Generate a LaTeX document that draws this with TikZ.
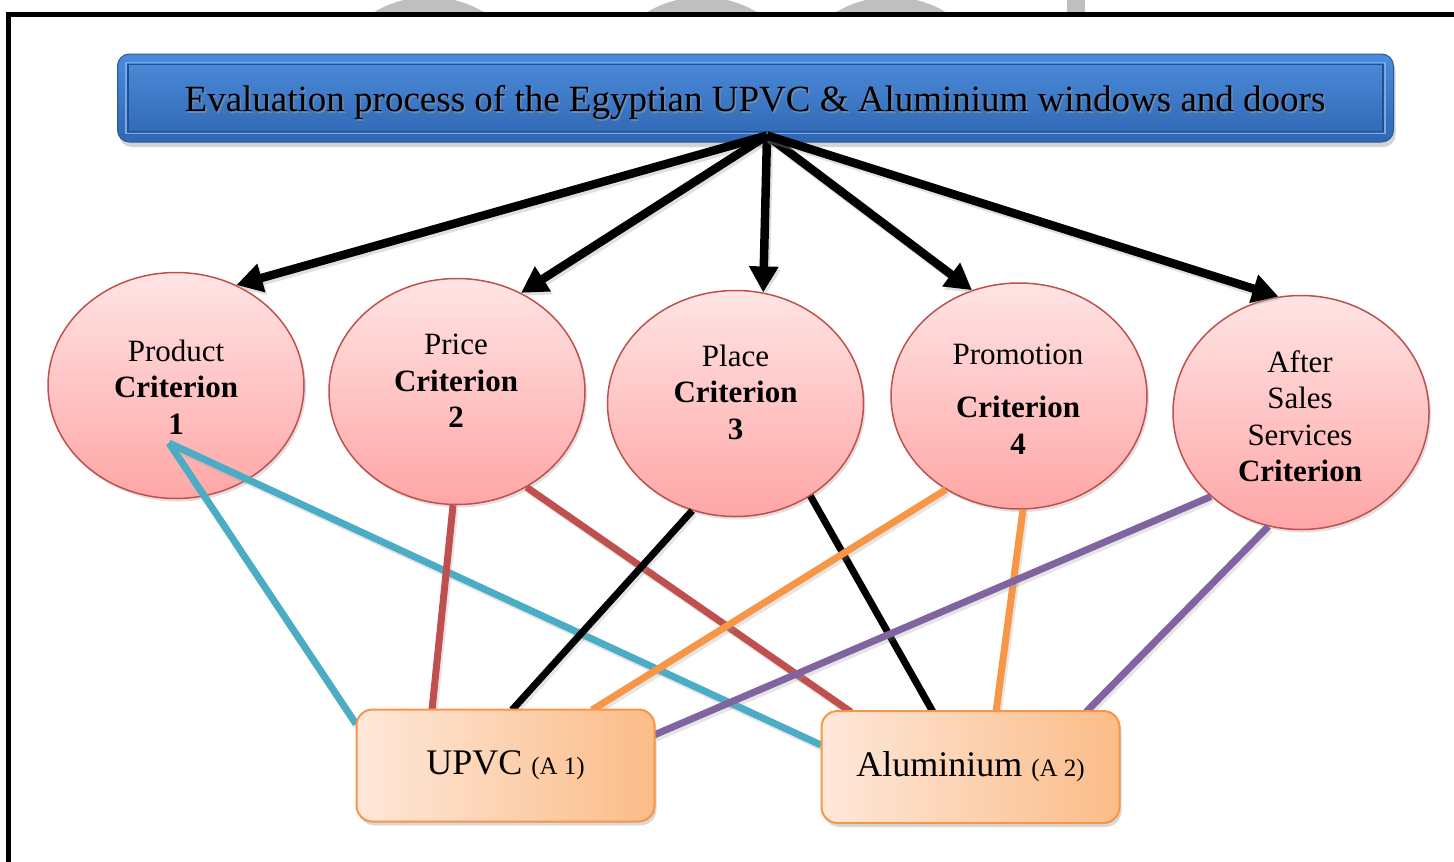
\documentclass[tikz,border=0pt]{standalone}
\usepackage{fontspec}
\setmainfont{Liberation Serif}
\usetikzlibrary{shapes.geometric,arrows.meta,shadows,calc}
\definecolor{critedge}{HTML}{C0504D}
\definecolor{crittop}{HTML}{FFE4E4}
\definecolor{critbot}{HTML}{FFA6A6}
\definecolor{boxedge}{HTML}{F79646}
\definecolor{boxleft}{HTML}{FEE8DA}
\definecolor{boxright}{HTML}{FBBC88}
\definecolor{bartop}{HTML}{4C8CDC}
\definecolor{barbot}{HTML}{2F67B2}
\definecolor{baredge}{HTML}{2A5A98}
\definecolor{barinner}{HTML}{22508C}
\definecolor{barlight}{HTML}{78A8E6}
\definecolor{lcyan}{HTML}{4BACC6}
\definecolor{lred}{HTML}{C0504D}
\definecolor{lorange}{HTML}{F79646}
\definecolor{lpurple}{HTML}{8064A2}
\definecolor{wmgray}{HTML}{BFBFBF}
\tikzset{
  crit/.style={ellipse, draw=critedge, line width=1.5pt, top color=crittop, bottom color=critbot,
    minimum width=256pt, minimum height=226pt, inner sep=0pt,
    drop shadow={shadow xshift=2pt, shadow yshift=-3pt, opacity=0.25}},
  critlbl/.style={align=center, font=\fontsize{31}{36.5}\selectfont, inner sep=0pt},
  altbox/.style={rectangle, rounded corners=16pt, draw=boxedge, line width=2pt, left color=boxleft, right color=boxright,
    minimum width=298pt, minimum height=112pt, inner sep=0pt,
    drop shadow={shadow xshift=2pt, shadow yshift=-4pt, opacity=0.3}},
  titlebar/.style={rectangle, rounded corners=12pt, draw=baredge, line width=1pt, top color=bartop, bottom color=barbot,
    minimum width=1276pt, minimum height=88pt, inner sep=0pt,
    drop shadow={shadow xshift=2pt, shadow yshift=-5pt, opacity=0.35}},
  arr/.style={line width=8.5pt, -{Triangle[length=26pt,width=28pt]},
    preaction={draw=black!35, opacity=0.35, line width=8.5pt, transform canvas={shift={(2pt,-3pt)}}}},
  link/.style={line width=7pt,
    preaction={draw=black!40, opacity=0.25, line width=7pt, transform canvas={shift={(2pt,-3pt)}}}},
}
\begin{document}
\begin{tikzpicture}[x=1pt,y=-1pt]
\useasboundingbox (0,0) rectangle (1454,862);
\clip (0,0) rectangle (1454,862);
% watermark fragments
\begin{scope}
\clip (0,0) rectangle (1454,12);
\fill[wmgray] (429,104) circle (107);
\fill[wmgray] (702,104) circle (107);
\fill[wmgray] (891,104) circle (107);
\fill[wmgray] (1067,0) rectangle (1085,12);
\end{scope}
% frame
\draw[line width=5pt] (8.5,900) -- (8.5,14) -- (1470,14);
% title bar
\node[titlebar] (T) at (755.5,98) {};
\draw[barlight, line width=1.5pt] ($(T.north west)+(9,9)$) rectangle ($(T.south east)+(-9,-9)$);
\draw[barinner, line width=1.5pt] ($(T.north west)+(11,11)$) rectangle ($(T.south east)+(-11,-11)$);
\node[inner sep=0pt, font=\fontsize{37}{40}\selectfont, text=black!40, opacity=0.6] (Tsh) at (756.5,104) {Evaluation process of the Egyptian UPVC \& Aluminium windows and doors};
\node[inner sep=0pt, font=\fontsize{37}{40}\selectfont] (Ttext) at (755,102) {Evaluation process of the Egyptian UPVC \& Aluminium windows and doors};
% criteria
\node[crit] (c1) at (176,385.5) {};
\node[crit] (c2) at (457,391.5) {};
\node[crit] (c3) at (735.5,403.5) {};
\node[crit] (c4) at (1019,396) {};
\node[crit, minimum height=234pt] (c5) at (1301,412.5) {};
\node[critlbl] (t1) at (176,387) {Product\\\textbf{Criterion}\\\textbf{1}};
\node[critlbl] (t2) at (456,381) {Price\\\textbf{Criterion}\\\textbf{2}};
\node[critlbl] (t3) at (735.5,392) {Place\\\textbf{Criterion}\\\textbf{3}};
\node[critlbl] (t4) at (1018,399) {Promotion\\[17pt]\textbf{Criterion}\\\textbf{4}};
\node[critlbl] (t5) at (1300,416) {After\\Sales\\Services\\\textbf{Criterion}};
% arrows
\coordinate (o) at ($(T.south)+(11.5,-7)$);
\draw[arr] (o) -- (c1.59);
\draw[arr] (o) -- (c2.57);
\draw[arr] (o) -- (c3.76);
\draw[arr] (o) -- (c4.114);
\draw[arr] (o) -- (c5.101);
% alternatives (positions for links)
\coordinate (p1) at ($(c1.center)+(-7,57.5)$);
\coordinate (uanchor) at (357,710);
\coordinate (aanchor) at (821,712);
% links
\draw[link, lcyan] (p1) -- ($(uanchor)+(-1,14)$);
\draw[link, lcyan] (p1) -- ($(aanchor)+(0,33)$);
\draw[link, lred] (c2.-92.5) -- ($(uanchor)+(75,0)$);
\draw[link, lred] (c2.-54.5) -- ($(aanchor)+(30,0)$);
\draw[link, black] (c3.-112.2) -- ($(uanchor)+(155,0)$);
\draw[link, black] (c3.-51.5) -- ($(aanchor)+(112,0)$);
\draw[link, lorange] (c4.-128.2) -- ($(uanchor)+(235,0)$);
\draw[link, lorange] (c4.-88.5) -- ($(aanchor)+(175,0)$);
\draw[link, lpurple] (c5.-137.1) -- ($(uanchor)+(297,25)$);
\draw[link, lpurple] (c5.-106.1) -- ($(aanchor)+(265,0)$);
% boxes
\node[altbox] (U) at (505.5,765.5) {{\fontsize{36}{40}\selectfont UPVC }{\fontsize{25}{30}\selectfont (A 1)}};
\node[altbox] (A) at (970.5,767) {{\fontsize{36}{40}\selectfont Aluminium }{\fontsize{25}{30}\selectfont (A 2)}};
\end{tikzpicture}
\end{document}
